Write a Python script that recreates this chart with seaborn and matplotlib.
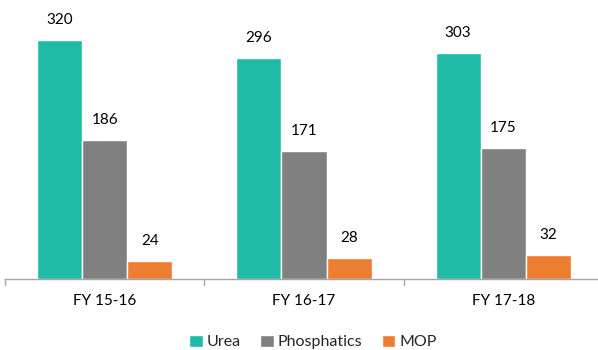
import matplotlib
matplotlib.use("Agg")
import matplotlib.pyplot as plt
import seaborn as sns
import pandas as pd

years = ["FY 15-16", "FY 16-17", "FY 17-18"]
urea = [320, 296, 303]
phosphatics = [186, 171, 175]
mop = [24, 28, 32]
series_names = ["Urea", "Phosphatics", "MOP"]
colors = ["#20BBA6", "#808080", "#ED7D31"]

df = pd.DataFrame({
    "year": years * 3,
    "value": urea + phosphatics + mop,
    "series": [s for s in series_names for _ in years],
})

sns.set_theme(style="white")
plt.rcParams["font.family"] = ["Lato", "DejaVu Sans"]

fig = plt.figure(figsize=(5.98, 3.5), dpi=100)
ax = fig.add_axes([5 / 598, 71 / 350, 598 / 598, 279 / 350])

sns.barplot(data=df, x="year", y="value", hue="series", order=years,
            hue_order=series_names, palette=colors, width=0.68, gap=0,
            saturation=1, ax=ax, legend=True)

# value labels above each bar
for container in ax.containers:
    for bar in container:
        h = bar.get_height()
        ax.annotate(f"{h:.0f}", (bar.get_x() + bar.get_width() / 2, h),
                    xytext=(0, 11.5), textcoords="offset points",
                    ha="center", va="baseline", fontsize=11, color="#000000")

ax.set_xlim(-0.5, 2.5)
ax.set_ylim(0, 373.5)
ax.set_xlabel("")
ax.set_ylabel("")
ax.set_yticks([])
for side in ["top", "right", "left"]:
    ax.spines[side].set_visible(False)
ax.spines["bottom"].set_color("#A6A6A6")
ax.spines["bottom"].set_linewidth(1)

ax.set_xticks([0, 1, 2])
ax.set_xticklabels(years, fontsize=11, color="#000000")
ax.tick_params(axis="x", length=0, pad=10.5)
# category divider ticks below the baseline
for xb in [-0.5, 0.5, 1.5, 2.5]:
    ax.plot([xb, xb], [0, -8.5], color="#A6A6A6", lw=1, clip_on=False)

handles, labels = ax.get_legend_handles_labels()
ax.legend(handles, labels, loc="center",
          bbox_to_anchor=(313 / 598, 8 / 350),
          bbox_transform=fig.transFigure, ncol=3, frameon=False,
          fontsize=11.5, handlelength=0.85, handleheight=0.85,
          handletextpad=0.25, columnspacing=1.2)

fig.savefig("out.png", dpi=100)
